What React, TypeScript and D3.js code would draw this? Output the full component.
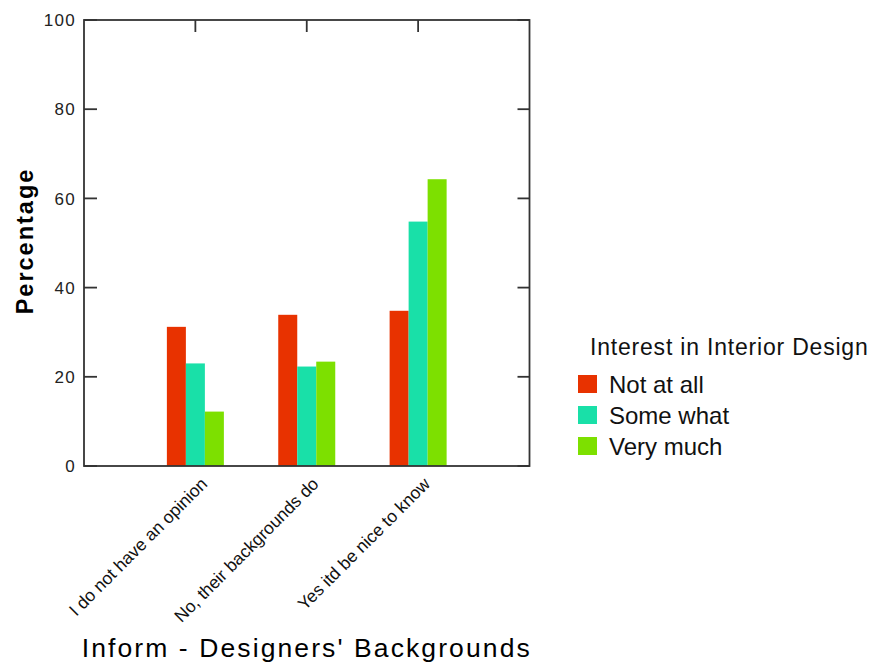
import React from "react";
import * as d3 from "d3";

const categories = ["I do not have an opinion", "No, their backgrounds do", "Yes itd be nice to know"];
const seriesNames = ["Not at all", "Some what", "Very much"];
const notAtAll = [31.2, 33.9, 34.8];
const someWhat = [23.0, 22.3, 54.8];
const veryMuch = [12.2, 23.4, 64.3];
const seriesColors = ["#E83200", "#19E0A8", "#7DE000"];
const yTicks = [0, 20, 40, 60, 80, 100];

const W = 875;
const H = 667;
const left = 84;
const right = 529.5;
const top = 20;
const bottom = 466;

export default function App() {
  const values = [notAtAll, someWhat, veryMuch];
  const x = d3.scaleLinear().domain([0, categories.length + 1]).range([left, right]);
  const y = d3.scaleLinear().domain([0, 100]).range([bottom, top]);
  const sub = d3.scaleBand<string>().domain(seriesNames).range([-28.5, 28.5]).padding(0);
  const axisColor = "#333";
  const font = "Arial, 'Liberation Sans', sans-serif";

  return (
    <svg width={W} height={H} style={{ position: "absolute", left: 0, top: 0, background: "#fff" }} fontFamily={font}>
      {/* bars */}
      {categories.map((c, i) =>
        seriesNames.map((s, j) => {
          const cx = x(i + 1);
          const v = values[j][i];
          return (
            <rect
              key={c + s}
              x={cx + (sub(s) as number)}
              y={y(v)}
              width={sub.bandwidth()}
              height={y(0) - y(v)}
              fill={seriesColors[j]}
            />
          );
        })
      )}
      {/* frame */}
      <rect x={left} y={top} width={right - left} height={bottom - top} fill="none" stroke={axisColor} strokeWidth={1.8} />
      {/* y ticks left and right */}
      {yTicks.map((t) => (
        <g key={t}>
          <line x1={left} x2={left + 13} y1={y(t)} y2={y(t)} stroke={axisColor} strokeWidth={1.8} />
          <line x1={right - 12} x2={right} y1={y(t)} y2={y(t)} stroke={axisColor} strokeWidth={1.8} />
          <text x={76} y={y(t)} dy="0.36em" textAnchor="end" fontSize={17} letterSpacing={1.3} fill="#222">
            {t}
          </text>
        </g>
      ))}
      {/* top ticks at categories */}
      {categories.map((c, i) => (
        <line key={c} x1={x(i + 1)} x2={x(i + 1)} y1={top} y2={top + 12} stroke={axisColor} strokeWidth={1.8} />
      ))}
      {/* category labels */}
      {categories.map((c, i) => (
        <text
          key={c}
          transform={`translate(${x(i + 1) + 13},${bottom + 19}) rotate(-45)`}
          textAnchor="end"
          fontSize={17.5}
          fill="#111"
        >
          {c}
        </text>
      ))}
      {/* axis titles */}
      <text x={(left + right) / 2} y={657} textAnchor="middle" fontSize={26.5} letterSpacing={2.1} fill="#000">
        Inform - Designers' Backgrounds
      </text>
      <text
        transform={`translate(33,${241}) rotate(-90)`}
        textAnchor="middle"
        fontSize={23.5}
        fontWeight="bold"
        letterSpacing={2}
        fill="#000"
      >
        Percentage
      </text>
      {/* legend */}
      <text x={590} y={355} fontSize={23} letterSpacing={0.8} fill="#111">
        Interest in Interior Design
      </text>
      {seriesNames.map((s, j) => (
        <g key={s}>
          <rect x={578} y={375 + j * 31} width={19} height={18} fill={seriesColors[j]} />
          <text x={609} y={393 + j * 31} fontSize={24} fill="#111">
            {s}
          </text>
        </g>
      ))}
    </svg>
  );
}
